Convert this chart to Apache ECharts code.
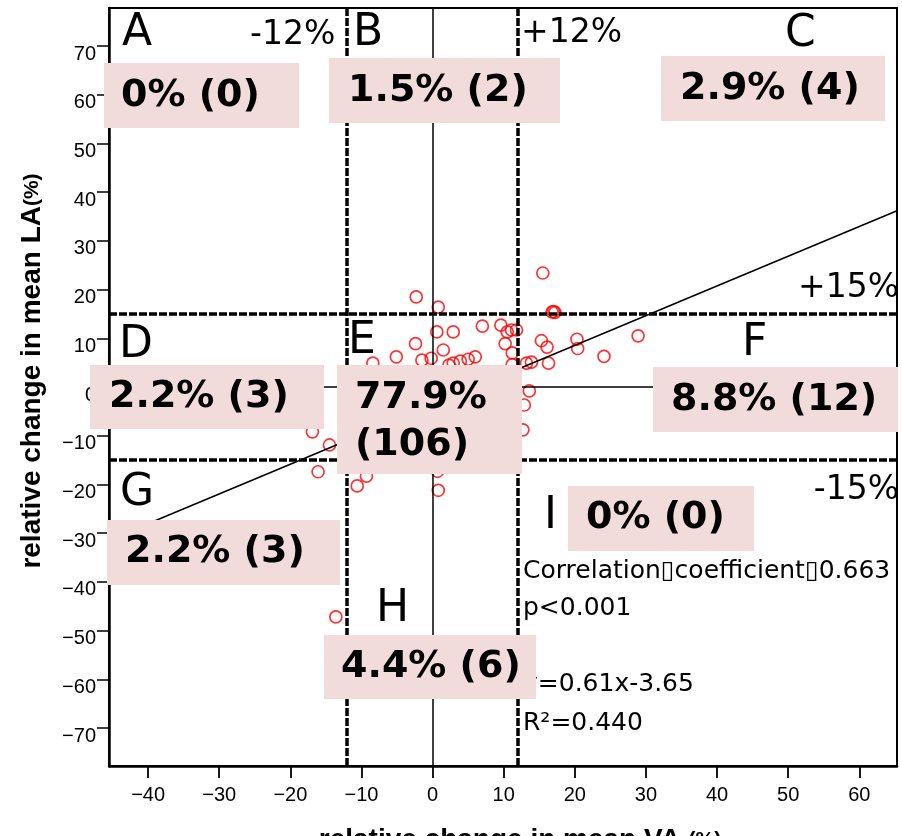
<!DOCTYPE html>
<html>
<head>
<meta charset="utf-8">
<script src="https://cdn.jsdelivr.net/npm/echarts@6/dist/echarts.min.js"></script>
<style>
  html, body { margin: 0; padding: 0; background: #fff; }
  #chart { width: 902px; height: 836px; }
</style>
</head>
<body>
<div id="chart"></div>
<script>
// Axis extents and tick values (relative change, %)
const vaRange = [-45.5, 65.3];
const laRange = [-77.8, 77.8];
const vaTicks = [-40, -30, -20, -10, 0, 10, 20, 30, 40, 50, 60];
const laTicks = [-70, -60, -50, -40, -30, -20, -10, 0, 10, 20, 30, 40, 50, 60, 70];

// Cut-offs that split the plane into nine regions
const vaCuts = [-12, 12];
const laCuts = [-15, 15];
const regionNames = ['A', 'B', 'C', 'D', 'E', 'F', 'G', 'H', 'I'];

// Regression fit and statistics
const slope = 0.61;
const intercept = -3.65;
const statLines = ['Correlation\u25AFcoefficient\u25AF0.663', 'p<0.001', 'y=0.61x-3.65', 'R\u00B2=0.440'];

// Patients: [change in mean VA %, change in mean LA %]
const pointsB = [[-2.3, 18.5], [0.8, 16.4]];
const pointsC = [[15.5, 23.4], [16.8, 15.4], [17.2, 15.3], [17.0, 15.5]];
const pointsD = [[-16.9, -9.2], [-14.5, -11.9], [-19.5, -4.0]];
const pointsE = [
  [0.6, 11.3], [2.9, 11.3], [7.0, 12.5], [9.6, 12.7], [10.5, 11.3], [11.1, 11.7], [11.8, 11.7],
  [10.2, 8.9], [11.2, 7.0], [-2.4, 8.9], [1.5, 7.6], [-5.1, 6.2], [-8.4, 4.9], [-1.5, 5.5],
  [-0.2, 5.9], [2.9, 4.9], [3.9, 5.3], [5.0, 5.7], [6.0, 6.2], [2.3, 4.5], [11.2, 4.6],
  [-11.0, -9.5], [-10.2, -6.8], [-9.6, -11.2], [-9.1, -4.3], [-8.7, -8.0], [-8.2, -1.6], [-7.9, -12.4], [-7.5, -6.1], [-7.1, -3.0], [-6.8, -9.3],
  [-6.4, 0.8], [-6.1, -5.2], [-5.8, -7.6], [-5.5, -2.4], [-5.2, -10.8], [-4.9, -4.1], [-4.6, 1.9], [-4.3, -6.5], [-4.0, -1.2], [-3.8, -8.7],
  [-3.5, -3.3], [-3.2, -0.4], [-3.0, -5.8], [-2.7, 2.6], [-2.5, -2.1], [-2.2, -7.2], [-2.0, -4.6], [-1.7, 0.3], [-1.5, -13.6], [-1.3, -3.0],
  [-1.0, 1.5], [-0.8, -6.0], [-0.6, -1.8], [-0.4, -9.9], [-0.2, -4.2], [0.1, 0.7], [0.3, -2.6], [0.5, -7.4], [0.8, 2.8], [1.0, -0.9],
  [1.2, -5.1], [1.4, -3.5], [1.7, 1.2], [1.9, -11.7], [2.1, -1.7], [2.4, -6.3], [2.6, 3.0], [2.8, -0.2], [3.1, -4.0], [3.3, -8.5],
  [3.5, 1.8], [3.8, -2.4], [4.0, 0.4], [4.2, -5.4], [4.5, 2.5], [4.7, -1.1], [5.0, -3.2], [5.2, -9.1], [5.5, 0.9], [5.7, -0.4],
  [6.0, -6.7], [6.2, 2.2], [6.5, -2.0], [6.8, 0.0], [7.0, -4.5], [7.3, 2.9], [7.6, -1.3], [7.9, 1.4], [8.2, -7.8], [8.5, -0.7],
  [8.8, 2.0], [9.1, -3.6], [9.4, 0.6], [9.7, -2.7], [10.0, 2.9], [10.3, -5.9], [10.6, -0.2], [10.9, 1.6], [11.2, -10.4], [11.4, -1.5],
  [-10.6, -2.2], [-9.9, -13.9], [-0.9, -14.3], [3.6, -12.8], [7.7, -11.0]
];
const pointsF = [
  [15.3, 9.5], [16.1, 8.2], [20.3, 9.8], [20.4, 7.9], [24.1, 6.3], [28.9, 10.5],
  [13.2, 4.9], [13.9, 5.1], [16.3, 4.9], [13.6, -0.8], [12.9, -3.7], [12.7, -8.8]
];
const pointsG = [[-16.1, -17.4], [-13.6, -47.2], [-17.0, -31.5]];
const pointsH = [[-10.6, -20.3], [-9.3, -18.3], [0.8, -21.2], [0.7, -17.3], [2.2, -15.8], [-4.5, -16.2]];

const allPoints = [].concat(pointsB, pointsC, pointsD, pointsE, pointsF, pointsG, pointsH);

// Count the patients falling in each region
function regionIndex(p) {
  const col = p[0] < vaCuts[0] ? 0 : (p[0] <= vaCuts[1] ? 1 : 2);
  const row = p[1] > laCuts[1] ? 0 : (p[1] >= laCuts[0] ? 1 : 2);
  return row * 3 + col;
}
const regionCounts = regionNames.map(() => 0);
allPoints.forEach(p => { regionCounts[regionIndex(p)] += 1; });
function shareText(n) {
  return n === 0 ? '0%' : (n / allPoints.length * 100).toFixed(1) + '%';
}

// Annotation layout (pixels)
const boxLayout = {
  A: { x: 104, y: 63,  w: 195, h: 65,  tx: 121, ty: 96 },
  B: { x: 329, y: 58,  w: 231, h: 65,  tx: 348, ty: 91 },
  C: { x: 661, y: 56,  w: 224, h: 65,  tx: 680, ty: 89 },
  D: { x: 90,  y: 365, w: 234, h: 64,  tx: 109, ty: 397 },
  E: { x: 337, y: 365, w: 185, h: 109, tx: 355, ty: 421.5 },
  F: { x: 653, y: 367, w: 245, h: 65,  tx: 671, ty: 400 },
  G: { x: 107, y: 520, w: 233, h: 65,  tx: 125, ty: 552 },
  H: { x: 324, y: 635, w: 212, h: 64,  tx: 341, ty: 667 },
  I: { x: 568, y: 486, w: 186, h: 65,  tx: 586, ty: 518 }
};
const letterLayout = {
  A: [122, 34], B: [353, 34], C: [785, 35],
  D: [119, 346], E: [348, 342], F: [742, 344],
  G: [120, 494], H: [376, 610], I: [544, 517]
};
const cutLabels = [
  { text: '-12%', x: 250, y: 35, align: 'left' },
  { text: '+12%', x: 521, y: 33, align: 'left' },
  { text: '+15%', x: 899, y: 288, align: 'right' },
  { text: '-15%', x: 899, y: 490, align: 'right' }
];
const statLayout = { x: 523, ys: [571, 608, 684, 723] };

const FONT = '"DejaVu Sans", sans-serif';
const AXIS_FONT = '"Liberation Sans", Arial, sans-serif';

const graphic = [];
regionNames.forEach((name, i) => {
  const b = boxLayout[name];
  const n = regionCounts[i];
  const txt = shareText(n) + (name === 'E' ? '\n' : ' ') + '(' + n + ')';
  graphic.push({
    type: 'rect', z: 100, silent: true,
    shape: { x: b.x, y: b.y, width: b.w, height: b.h },
    style: { fill: '#f2dcdb' }
  });
  graphic.push({
    type: 'text', z: 101, silent: true, x: b.tx, y: b.ty,
    style: {
      text: txt, fill: '#000', fontFamily: FONT, fontWeight: 'bold', fontSize: 38,
      lineHeight: 47, textAlign: 'left', textVerticalAlign: 'middle'
    }
  });
  const L = letterLayout[name];
  graphic.push({
    type: 'text', z: 101, silent: true, x: L[0], y: L[1],
    style: {
      text: name, fill: '#000', fontFamily: FONT, fontSize: 44,
      textAlign: 'left', textVerticalAlign: 'middle'
    }
  });
});
cutLabels.forEach(c => {
  graphic.push({
    type: 'text', z: 101, silent: true, x: c.x, y: c.y,
    style: {
      text: c.text, fill: '#000', fontFamily: FONT, fontSize: 33,
      textAlign: c.align, textVerticalAlign: 'middle'
    }
  });
});
statLines.forEach((s, i) => {
  graphic.push({
    type: 'text', z: 99, silent: true, x: statLayout.x, y: statLayout.ys[i],
    style: {
      text: s, fill: '#000', fontFamily: FONT, fontSize: 25,
      textAlign: 'left', textVerticalAlign: 'middle'
    }
  });
});
// Axis titles
graphic.push({
  type: 'text', z: 101, silent: true, x: 32, y: 371, rotation: Math.PI / 2,
  style: {
    text: 'relative change in mean LA{p|(%)}', fill: '#000', fontFamily: AXIS_FONT,
    fontWeight: 'bold', fontSize: 28, textAlign: 'center', textVerticalAlign: 'middle',
    rich: { p: { fontFamily: AXIS_FONT, fontWeight: 'bold', fontSize: 21 } }
  }
});
graphic.push({
  type: 'text', z: 101, silent: true, x: 520, y: 840,
  style: {
    text: 'relative change in mean VA {p|(%)}', fill: '#000', fontFamily: AXIS_FONT,
    fontWeight: 'bold', fontSize: 28, textAlign: 'center', textVerticalAlign: 'middle',
    rich: { p: { fontFamily: AXIS_FONT, fontWeight: 'bold', fontSize: 21 } }
  }
});

const minusFmt = v => (v < 0 ? '\u2212' + Math.abs(v) : String(v));

const solidRef = { type: 'solid', width: 1.5, color: '#000' };
const dashRef = { type: [8, 2], width: 3.5, color: '#000' };

const option = {
  animation: false,
  backgroundColor: '#fff',
  grid: { left: 109, right: 5, top: 8, bottom: 70, show: true, borderColor: '#000', borderWidth: 2 },
  xAxis: {
    type: 'value', min: vaRange[0], max: vaRange[1],
    axisLine: { show: true, onZero: false, lineStyle: { color: '#000', width: 2.5 } },
    axisTick: { show: true, length: 12, customValues: vaTicks, lineStyle: { color: '#000', width: 1.8 } },
    axisLabel: {
      customValues: vaTicks, formatter: minusFmt, color: '#000',
      fontFamily: AXIS_FONT, fontSize: 20, lineHeight: 20, margin: 19
    },
    splitLine: { show: false }
  },
  yAxis: {
    type: 'value', min: laRange[0], max: laRange[1],
    axisLine: { show: true, onZero: false, lineStyle: { color: '#000', width: 2.5 } },
    axisTick: { show: true, length: 12, customValues: laTicks, lineStyle: { color: '#000', width: 1.5 } },
    axisLabel: {
      customValues: laTicks, formatter: minusFmt, color: '#000',
      fontFamily: AXIS_FONT, fontSize: 20, lineHeight: 16, margin: 13, verticalAlign: 'top'
    },
    splitLine: { show: false }
  },
  series: [
    {
      type: 'scatter', silent: true, z: 3,
      data: allPoints,
      symbol: 'circle', symbolSize: 12,
      itemStyle: { color: 'rgba(0,0,0,0)', borderColor: '#ff0000', borderWidth: 1.7 }
    },
    {
      type: 'line', silent: true, z: 4,
      data: [
        [vaRange[0], slope * vaRange[0] + intercept],
        [vaRange[1], slope * vaRange[1] + intercept]
      ],
      showSymbol: false,
      lineStyle: { color: '#000', width: 1.5 },
      markLine: {
        silent: true, symbol: ['none', 'none'], label: { show: false },
        emphasis: { disabled: true },
        data: [
          { xAxis: 0, lineStyle: solidRef },
          { yAxis: 0, lineStyle: solidRef },
          { xAxis: vaCuts[0], lineStyle: dashRef },
          { xAxis: vaCuts[1], lineStyle: dashRef },
          { yAxis: laCuts[0], lineStyle: dashRef },
          { yAxis: laCuts[1], lineStyle: dashRef }
        ]
      }
    }
  ],
  graphic: graphic
};

const chart = echarts.init(document.getElementById('chart'));
chart.setOption(option);
</script>
</body>
</html>
